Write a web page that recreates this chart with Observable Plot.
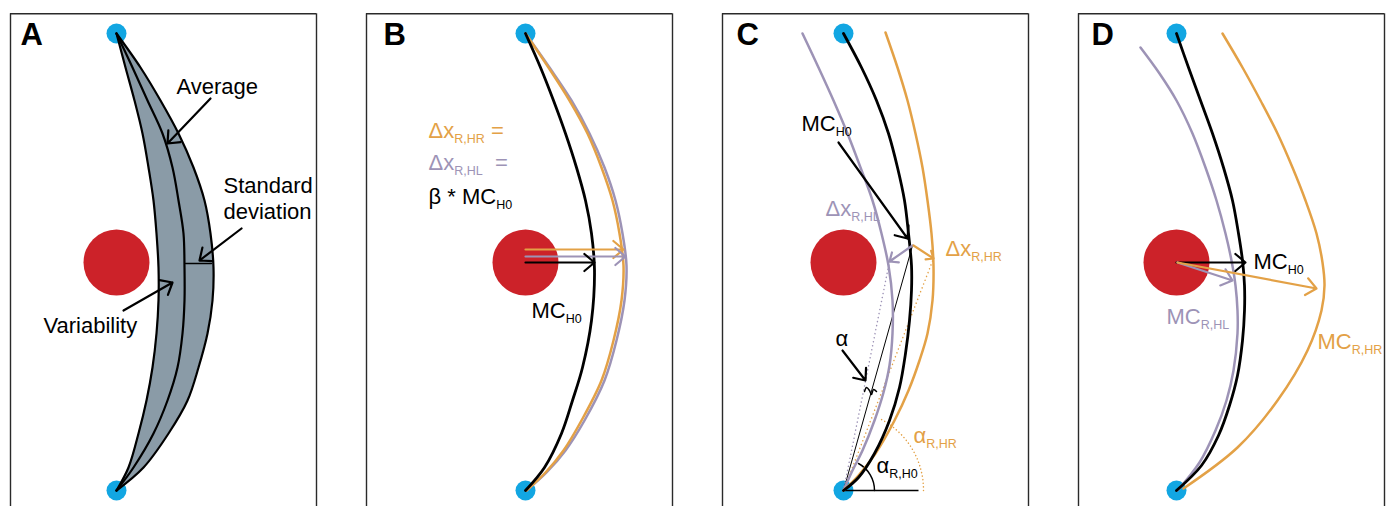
<!DOCTYPE html>
<html><head><meta charset="utf-8">
<script src="https://cdn.jsdelivr.net/npm/d3@7"></script>
<script src="https://cdn.jsdelivr.net/npm/@observablehq/plot@0.6"></script>
<style>body{margin:0;background:#fff}</style>
</head><body><div id="chart"></div>
<script>
// ---------- data (panel-local coordinates) ----------
const panels = ["A", "B", "C", "D"];
const panelLabelX = [10, 17, 14, 13];

// start/end points (blue) and obstacle (red) per panel
const blueX = [106, 159, 121, 98];
const blueY = [33, 490];
const redY = 262;

// Panel A: band of trajectories, x read at shared y levels
const bandY     = [33, 67, 100, 133, 167, 200, 233, 267, 300, 333, 367, 400, 433, 467, 490];
const bandLeft  = [106, 115, 124, 132, 138, 143, 146, 148, 148, 146, 142, 136, 128, 118, 106];
const bandMid   = [106, 122, 137, 152, 162, 168, 173, 174, 174, 172, 167, 157, 143, 123, 106];
const bandRight = [106, 130, 150, 168, 183, 194, 200, 203, 202, 197, 188, 177, 158, 133, 106];
const sdLine = [[175, 263], [201, 263]];

// Panel B trajectories
const bH0 = [[159,33],[174,67],[187,100],[199,133],[210,167],[219,200],[225,233],[228,270],[225,320],[216,367],[206,400],[195,433],[178,467],[159,490]];
const bHR = [[159,33],[182,67],[203,100],[221,133],[235,167],[246,200],[253,233],[257,265],[255,300],[247,340],[235,380],[215,420],[197,450],[179,472],[160,490]];
const bHL = [[159,33],[183,67],[205,100],[223,133],[238,167],[249,200],[256,233],[260,265],[258,300],[250,340],[238,380],[218,420],[199,450],[180,472],[160,490]];

// Panel C trajectories
const cH0 = [[121,33],[139,67],[154,100],[166,133],[175,167],[182,200],[186,233],[189,265],[189,290],[187,320],[183,353],[177,387],[167,420],[152,453],[136,477],[121,490]];
const cHL = [[80,33],[96,67],[111,100],[125,133],[138,167],[150,200],[159,233],[166,265],[170,300],[170,333],[167,365],[161,392],[152,420],[140,450],[129,472],[121,490]];
const cHR = [[163,32],[175,67],[185,100],[193,133],[200,167],[205,200],[209,233],[211,265],[210,300],[205,333],[197,360],[186,390],[172,420],[153,453],[136,475],[121,490]];
const cSquiggle = [[142,391],[144,387],[147,390],[149,394],[151,389],[154,391]];

// Panel D trajectories
const dH0 = [[98,33],[110,67],[122,100],[134,133],[145,167],[154,200],[160,233],[164,260],[166,285],[166,310],[164,340],[159,375],[151,405],[140,435],[123,465],[98,490]];
const dHL = [[62,47],[81,73],[98,100],[114,133],[127,167],[138,200],[147,233],[153,260],[157,285],[159,310],[159,333],[155,370],[148,400],[137,430],[121,462],[99,490]];
const dHR = [[144,33],[164,67],[182,100],[199,133],[214,167],[227,200],[238,233],[244,262],[246,285],[243,310],[229,350],[199,400],[159,447],[105,488]];

// arrows: panel, series, x1, y1, x2, y2
const arrowsData = [
  ["A","H0",200,98,157,143], ["A","H0",231,228,189,260], ["A","H0",113,310,162,282],
  ["B","HR",159,249,257,249], ["B","HL",159,256,259,256], ["B","H0",159,262,228,262],
  ["C","H0",116,142,185,238], ["C","HL",190,245,167,261], ["C","HR",191,245,211,258], ["C","H0",120,350,143,380],
  ["D","H0",98,262,167,262], ["D","HL",99,262,154,280], ["D","HR",99,262,238,288]
];
// straight helper lines in panel C: x1,y1,x2,y2
const cSecant = [121,490,190,245];
const cBase   = [121,490,196,490];
const cDotted = [["HL",121,490,167,261], ["HR",121,490,211,258]];
// angle arcs in panel C: series, x1,y1,x2,y2, bend angle, dotted
const cArcs = [["H0",152,490,136,463,31,false], ["HR",201,490,159,419,31,true]];

// labels: panel, series, x, y, text
const labels = [
  ["A","H0",166,86,"Average"], ["A","H0",213,185,"Standard"], ["A","H0",213,211,"deviation"], ["A","H0",33,325,"Variability"],
  ["B","HR",62,130,"Δx_{R,HR} ="], ["B","HL",62,162,"Δx_{R,HL}  ="], ["B","H0",62,196,"β * MC_{H0}"], ["B","H0",165,310,"MC_{H0}"],
  ["C","H0",79,123,"MC_{H0}"], ["C","HL",103,208,"Δx_{R,HL}"], ["C","HR",223,248,"Δx_{R,HR}"],
  ["C","H0",113,338,"α"], ["C","H0",154,465,"α_{R,H0}"], ["C","HR",191,435,"α_{R,HR}"],
  ["D","H0",175,261,"MC_{H0}"], ["D","HL",88,316,"MC_{R,HL}"], ["D","HR",239,341,"MC_{R,HR}"]
];

// ---------- styles ----------
const seriesColor = {H0: "#000000", HL: "#9d93b6", HR: "#e3a146"};
const BLUE = "#12a6e2", RED = "#cc2229", BAND = "#8a9ba7", FRAME = "#2a2a2a";
const FONT = "'Liberation Sans', Arial, Helvetica, sans-serif";

// ---------- build ----------
const P = (panel, pts) => pts.map(([x, y]) => ({panel, x, y}));
const blueDots = panels.flatMap((p, i) => blueY.map(y => ({panel: p, x: blueX[i], y})));
const redDots = panels.map((p, i) => ({panel: p, x: blueX[i], y: redY}));
const bandRows = bandY.map((y, i) => ({panel: "A", y, l: bandLeft[i], m: bandMid[i], r: bandRight[i]}));
const arrowRows = arrowsData.map(([panel, s, x1, y1, x2, y2]) => ({panel, color: seriesColor[s], x1, y1, x2, y2}));
const labelRows = labels.map(([panel, s, x, y, text]) => ({panel, color: seriesColor[s], x, y, text}));

const curve = "catmull-rom";
const trajectories = [
  ["B","HL",bHL], ["B","HR",bHR], ["B","H0",bH0],
  ["C","HL",cHL], ["C","HR",cHR], ["C","H0",cH0],
  ["D","HL",dHL], ["D","HR",dHR], ["D","H0",dH0]
];

const marks = [
  // frames (open at the bottom)
  Plot.ruleX([0, 306], {y1: 13.3, y2: 510, stroke: FRAME, strokeWidth: 1.4}),
  Plot.ruleY([13.3], {x1: 0, x2: 306, stroke: FRAME, strokeWidth: 1.4}),
  // panel letters
  Plot.text(panels, {fx: d => d, x: (d, i) => panelLabelX[i], y: 35, text: d => d, textAnchor: "start",
    fontSize: 31, fontWeight: "bold", fill: "#000", fontFamily: FONT}),
  // dots
  Plot.dot(redDots, {fx: "panel", x: "x", y: "y", r: 33, fill: RED}),
  Plot.dot(blueDots, {fx: "panel", x: "x", y: "y", r: 10, fill: BLUE}),
  // panel A band
  Plot.areaX(bandRows, {fx: "panel", y: "y", x1: "l", x2: "r", fill: BAND, curve}),
  Plot.line(bandRows, {fx: "panel", x: "l", y: "y", stroke: "#000", strokeWidth: 2.2, curve}),
  Plot.line(bandRows, {fx: "panel", x: "r", y: "y", stroke: "#000", strokeWidth: 2.2, curve}),
  Plot.line(bandRows, {fx: "panel", x: "m", y: "y", stroke: "#000", strokeWidth: 2.2, curve}),
  Plot.line(P("A", sdLine), {fx: "panel", x: "x", y: "y", stroke: "#000", strokeWidth: 1.4}),
  // panel C helper lines
  Plot.link([cSecant], {fx: () => "C", x1: d => d[0], y1: d => d[1], x2: d => d[2], y2: d => d[3], stroke: "#000", strokeWidth: 1}),
  Plot.link([cBase], {fx: () => "C", x1: d => d[0], y1: d => d[1], x2: d => d[2], y2: d => d[3], stroke: "#000", strokeWidth: 1.5}),
  ...cDotted.map(d => Plot.link([d], {fx: () => "C", x1: e => e[1], y1: e => e[2], x2: e => e[3], y2: e => e[4],
    stroke: seriesColor[d[0]], strokeWidth: 1.5, strokeDasharray: "0.1,4", strokeLinecap: "round"})),
  ...cArcs.map(d => Plot.arrow([d], {fx: () => "C", x1: e => e[1], y1: e => e[2], x2: e => e[3], y2: e => e[4],
    bend: -d[5], headLength: 0, stroke: seriesColor[d[0]], strokeWidth: 1.5,
    strokeDasharray: d[6] ? "0.1,3.5" : null, strokeLinecap: "round"})),
  // trajectories
  ...trajectories.map(([panel, s, pts]) => Plot.line(P(panel, pts), {fx: "panel", x: "x", y: "y",
    stroke: seriesColor[s], strokeWidth: s === "H0" ? 2.8 : 2.5, curve})),
  Plot.line(P("C", cSquiggle), {fx: "panel", x: "x", y: "y", stroke: "#000", strokeWidth: 1.5, curve}),
  // arrows
  Plot.arrow(arrowRows, {fx: "panel", x1: "x1", y1: "y1", x2: "x2", y2: "y2", stroke: "color",
    strokeWidth: 2.2, headLength: 9, headAngle: 80}),
  // labels
  Plot.text(labelRows, {fx: "panel", x: "x", y: "y", text: "text", fill: "color", textAnchor: "start",
    fontSize: 22, fontFamily: FONT})
];

const chart = Plot.plot({
  width: 1390, height: 506,
  marginLeft: 10, marginRight: 6, marginTop: 0, marginBottom: 0,
  fx: {domain: panels, paddingInner: 50 / 356, paddingOuter: 0, round: false, axis: null, label: null},
  x: {domain: [0, 306], range: [10, 316], axis: null},
  y: {domain: [0, 506], range: [0, 506], axis: null},
  color: {type: "identity"},
  style: {fontFamily: FONT, background: "#fff", overflow: "visible"},
  marks
});

// subscripts: "X_{sub}" -> tspans
chart.querySelectorAll("text").forEach(t => {
  const s = t.textContent;
  if (!s.includes("_{")) return;
  const parts = s.split(/_\{([^}]*)\}/);
  while (t.firstChild) t.removeChild(t.firstChild);
  let shifted = false;
  parts.forEach((p, i) => {
    if (!p) return;
    const ts = document.createElementNS("http://www.w3.org/2000/svg", "tspan");
    ts.textContent = p;
    if (i % 2 === 1) { ts.setAttribute("font-size", "12.5"); ts.setAttribute("dy", "5"); shifted = true; }
    else if (shifted) { ts.setAttribute("dy", "-5"); shifted = false; }
    t.appendChild(ts);
  });
});

document.getElementById("chart").appendChild(chart);
</script>
</body></html>
